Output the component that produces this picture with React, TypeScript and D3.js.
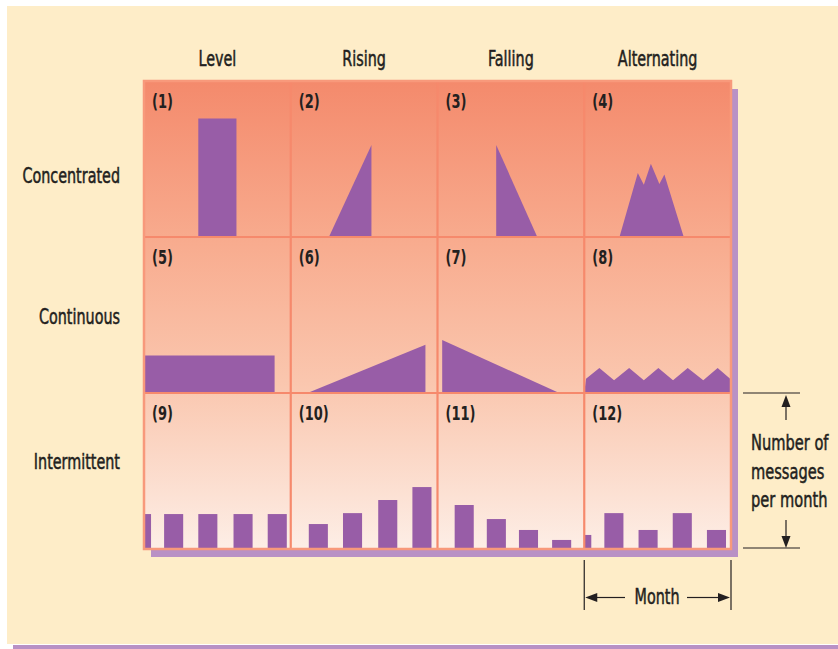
import React from "react";
import * as d3 from "d3";

const columns = ["Level", "Rising", "Falling", "Alternating"];
const rows = ["Concentrated", "Continuous", "Intermittent"];
const cellLabels = ["(1)", "(2)", "(3)", "(4)", "(5)", "(6)", "(7)", "(8)", "(9)", "(10)", "(11)", "(12)"];
const yAxisLabel = ["Number of", "messages", "per month"];
const xAxisLabel = "Month";

// Area profiles: t = position within the month (0-100), v = messages (0-100)
const concLevel = [[37, 0], [37, 76], [63, 76], [63, 0]];
const concRising = [[26, 0], [55, 59], [55, 0]];
const concFalling = [[40, 0], [40, 59], [68, 0]];
const concAlternating = [[24, 0], [36.5, 41], [40.6, 33.5], [45.4, 47], [51.2, 34], [54.6, 40], [67.8, 0]];
const contLevel = [[0, 0], [0, 24], [89, 24], [89, 0]];
const contRising = [[11.4, 0], [91.8, 31], [91.8, 0]];
const contFalling = [[3.2, 0], [3.2, 34], [83, 0]];
const contAlternating = [[0, 0], [1.2, 9.2], [10.3, 16], [20.3, 8.2], [30.6, 16], [40.6, 8.2], [50.5, 16], [60.5, 8.2], [70.5, 16], [81.1, 8.2], [90.9, 16], [100, 8.6], [100, 0]];

// Intermittent bars: t = bar centre within the month, v = messages
const intLevelT = [-1.7, 20.2, 43.5, 67.5, 90.8];
const intLevelV = [22.4, 22.4, 22.4, 22.4, 22.4];
const intRisingT = [18.8, 42.1, 66.1, 89.4];
const intRisingV = [16, 23, 31.4, 39.7];
const intFallingT = [18.2, 40.1, 62, 84.6];
const intFallingV = [28.2, 19.2, 12.2, 5.8];
const intAltT = [-1.7, 20.2, 43.5, 66.8, 90.1];
const intAltV = [9, 23, 12.2, 23, 12.2];

const areaSeries = [concLevel, concRising, concFalling, concAlternating, contLevel, contRising, contFalling, contAlternating];
const barSeries = [
  [intLevelT, intLevelV],
  [intRisingT, intRisingV],
  [intFallingT, intFallingV],
  [intAltT, intAltV],
];

const FONT = "'DejaVu Sans Condensed', 'DejaVu Sans', sans-serif";
const PURPLE = "#985DA7";
const GRID = "#F6896C";
const INK = "#231F20";
const SHADOW = "#B991C5";
const CREAM = "#FEEDC8";

const GX0 = 144, GX1 = 731, GY0 = 81, GY1 = 549;

function CText(props: { x: number; y: number; anchor?: string; size?: number; bold?: boolean; sx?: number; children: React.ReactNode }) {
  const { x, y, anchor = "start", size = 21, bold = false, sx = 0.76, children } = props;
  return (
    <text
      transform={`translate(${x},${y}) scale(${sx},1)`}
      textAnchor={anchor}
      fontFamily={FONT}
      fontSize={size}
      fontWeight={bold ? "bold" : "normal"}
      fill={INK}
      stroke={INK}
      strokeWidth={bold ? 0 : 0.5}
    >
      {children}
    </text>
  );
}

export default function App() {
  const colX = d3.scaleLinear().domain([0, 4]).range([GX0, GX1]);
  const rowY = d3.scaleLinear().domain([0, 3]).range([GY0, GY1]);
  const cellW = colX(1) - colX(0);
  const barW = 13;

  const cells: React.ReactNode[] = [];
  for (let r = 0; r < 3; r++) {
    for (let c = 0; c < 4; c++) {
      const idx = r * 4 + c;
      const x0 = colX(c), x1 = colX(c + 1);
      const y0 = rowY(r), y1 = rowY(r + 1);
      const xs = d3.scaleLinear().domain([0, 100]).range([x0, x1]);
      const ys = d3.scaleLinear().domain([0, 100]).range([y1, y0]);
      let mark: React.ReactNode = null;
      if (r < 2) {
        const data = areaSeries[idx];
        const area = d3.area<number[]>().x((d) => xs(d[0])).y0(ys(0)).y1((d) => ys(d[1]));
        mark = <path d={area(data) || ""} fill={PURPLE} />;
      } else {
        const [ts, vs] = barSeries[c];
        mark = (
          <g clipPath={`url(#clip${idx})`}>
            {ts.map((t, i) => (
              <rect key={i} x={xs(t - barW / 2)} y={ys(vs[i])} width={xs(barW) - xs(0)} height={ys(0) - ys(vs[i]) + 1} fill={PURPLE} />
            ))}
          </g>
        );
      }
      cells.push(
        <g key={idx}>
          <clipPath id={`clip${idx}`}>
            <rect x={x0} y={y0} width={cellW} height={y1 - y0} />
          </clipPath>
          {mark}
          <CText x={x0 + 8} y={y0 + 27} size={19} bold sx={0.76}>
            {cellLabels[idx]}
          </CText>
        </g>
      );
    }
  }

  const upTip = rowY(2) + 2, downTip = rowY(3) - 1;
  const ax = 786;
  const mx0 = colX(3), mx1 = colX(4);
  const my = 597.5;

  return (
    <svg width={838} height={649} style={{ position: "absolute", left: 0, top: 0 }} xmlns="http://www.w3.org/2000/svg">
      <defs>
        <linearGradient id="bg" gradientUnits="userSpaceOnUse" x1={0} y1={GY0} x2={0} y2={GY1}>
          <stop offset="0" stopColor="#F48A6C" />
          <stop offset="0.35" stopColor="#F8AC8F" />
          <stop offset="0.65" stopColor="#FAC7AF" />
          <stop offset="1" stopColor="#FDEEE6" />
        </linearGradient>
      </defs>
      <rect x={0} y={0} width={838} height={649} fill="#FFFFFF" />
      <rect x={7} y={6} width={831} height={638} fill={CREAM} />
      <rect x={13} y={645} width={825} height={4} fill={SHADOW} />

      {/* column headers */}
      {columns.map((name, i) => (
        <CText key={name} x={(colX(i) + colX(i + 1)) / 2} y={66} anchor="middle">
          {name}
        </CText>
      ))}
      {/* row labels */}
      {rows.map((name, i) => (
        <CText key={name} x={120} y={[183, 324, 469][i]} anchor="end">
          {name}
        </CText>
      ))}

      {/* shadow and grid background */}
      <rect x={GX0 + 7} y={GY0 + 8} width={GX1 - GX0} height={GY1 - GY0} fill={SHADOW} />
      <rect x={GX0} y={GY0} width={GX1 - GX0} height={GY1 - GY0} fill="url(#bg)" />

      {cells}

      {/* grid lines */}
      {d3.range(1, 4).map((i) => (
        <line key={"v" + i} x1={colX(i)} x2={colX(i)} y1={GY0} y2={GY1} stroke={GRID} strokeWidth={2.2} />
      ))}
      {d3.range(1, 3).map((i) => (
        <line key={"h" + i} x1={GX0} x2={GX1} y1={rowY(i)} y2={rowY(i)} stroke={GRID} strokeWidth={2.2} />
      ))}
      <rect x={GX0} y={GY0} width={GX1 - GX0} height={GY1 - GY0} fill="none" stroke="#F8997B" strokeWidth={2.5} />

      {/* vertical annotation */}
      <g stroke={INK} strokeWidth={1.2}>
        <line x1={743} x2={800} y1={rowY(2)} y2={rowY(2)} />
        <line x1={743} x2={800} y1={rowY(3) - 1} y2={rowY(3) - 1} />
        <line x1={ax} x2={ax} y1={upTip + 10} y2={420} />
        <line x1={ax} x2={ax} y1={520} y2={downTip - 10} />
        <line x1={mx0} x2={mx0} y1={560} y2={610} />
        <line x1={mx1} x2={mx1} y1={560} y2={610} />
        <line x1={mx0 + 12} x2={625} y1={my} y2={my} />
        <line x1={687} x2={mx1 - 12} y1={my} y2={my} />
      </g>
      <g fill={INK}>
        <path d={`M${ax},${upTip}L${ax - 4.5},${upTip + 12}L${ax + 4.5},${upTip + 12}Z`} />
        <path d={`M${ax},${downTip}L${ax - 4.5},${downTip - 12}L${ax + 4.5},${downTip - 12}Z`} />
        <path d={`M${mx0 + 1},${my}L${mx0 + 13},${my - 4.5}L${mx0 + 13},${my + 4.5}Z`} />
        <path d={`M${mx1 - 1},${my}L${mx1 - 13},${my - 4.5}L${mx1 - 13},${my + 4.5}Z`} />
      </g>
      {yAxisLabel.map((line, i) => (
        <CText key={line} x={751} y={450 + i * 28.5} sx={0.775}>
          {line}
        </CText>
      ))}
      <CText x={657} y={604} anchor="middle">
        {xAxisLabel}
      </CText>
    </svg>
  );
}
